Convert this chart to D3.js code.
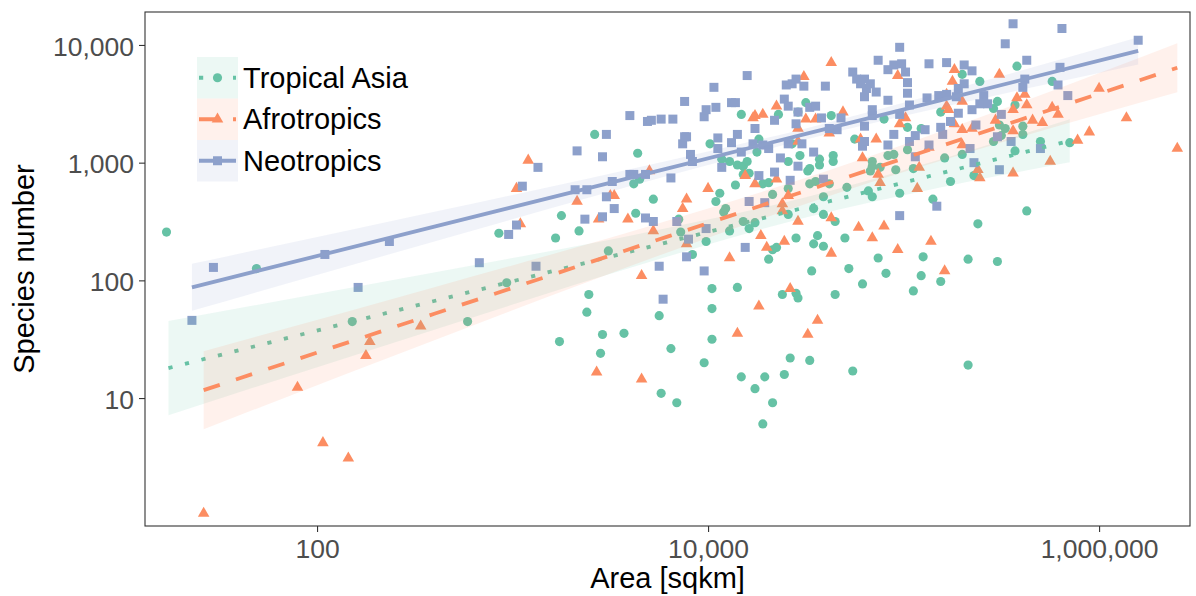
<!DOCTYPE html>
<html>
<head>
<meta charset="utf-8">
<script src="https://d3js.org/d3.v7.min.js"></script>
<style>
  body { margin: 0; background: #fff; }
  svg { display: block; font-family: "Liberation Sans", Arial, sans-serif; }
</style>
</head>
<body>
<script>
// values, kept as log10(area in sqkm) and log10(species number)
var asiaLogArea = [1.23,1.69,2.18,2.77,2.93,2.97,3.22,3.25,3.34,3.38,
  3.39,3.42,3.46,3.24,3.45,3.49,3.57,3.64,3.65,3.62,
  3.72,3.63,3.85,3.86,3.75,3.81,3.76,3.84,3.92,3.98,
  3.99,4.01,4.02,4.02,4.02,4.04,4.06,4.07,4.08,4.09,
  4.11,4.11,4.14,4.15,4.15,4.17,4.17,4.18,4.18,4.18,
  4.20,4.21,4.21,4.24,4.24,4.25,4.26,4.28,4.28,4.29,
  4.31,4.31,4.33,4.33,4.33,4.35,4.36,4.38,4.39,4.41,
  4.41,4.41,4.42,4.43,4.45,4.45,4.46,4.46,4.47,4.50,
  4.51,4.52,4.52,4.52,4.53,4.54,4.54,4.55,4.56,4.57,
  4.57,4.59,4.59,4.59,4.62,4.63,4.64,4.64,4.65,4.65,
  4.70,4.71,4.72,4.74,4.75,4.79,4.82,4.83,4.84,4.84,
  4.84,4.87,4.88,4.90,4.91,4.92,4.95,4.96,4.98,5.02,
  5.02,5.05,5.05,5.09,5.09,5.10,5.15,5.19,5.19,5.21,
  5.24,5.30,5.30,5.33,5.33,5.36,5.38,5.39,5.46,5.46,
  5.48,5.48,5.49,5.50,5.52,5.57,5.57,5.58,5.61,5.61,
  5.63,5.70,5.76,5.85];
var asiaLogSpp = [2.41,2.10,1.65,1.65,2.40,1.98,2.36,2.55,2.42,1.73,
  1.88,3.24,1.54,1.48,1.38,2.25,1.55,3.08,2.86,2.82,
  2.69,2.57,2.52,2.41,1.70,1.42,1.04,0.96,2.22,1.30,
  2.33,3.16,1.93,1.76,1.50,2.67,2.74,3.03,2.58,2.61,
  2.42,3.01,2.81,1.94,2.98,3.41,1.18,2.90,2.50,2.97,
  3.01,2.91,2.44,2.49,1.08,3.09,3.20,2.82,0.78,1.18,
  2.83,2.18,2.73,0.96,2.26,2.28,3.41,1.88,1.20,3.01,
  2.56,2.78,1.34,3.16,2.36,1.89,3.43,1.85,3.06,3.51,
  2.93,2.95,2.82,1.32,2.08,2.31,2.61,2.84,2.38,3.03,
  2.98,2.71,2.56,2.29,2.82,3.40,3.06,3.01,2.50,1.88,
  2.36,2.79,2.10,1.23,3.20,1.97,2.76,2.93,3.01,2.97,
  2.71,2.19,2.96,3.37,2.06,3.06,3.07,2.94,2.74,3.30,
  3.11,2.95,1.91,3.29,2.04,2.20,2.69,3.43,1.99,3.04,
  2.84,3.75,3.07,2.18,1.28,2.89,2.48,3.69,3.46,3.18,
  3.52,2.16,3.32,3.23,3.29,3.49,3.10,3.82,3.31,3.24,
  2.59,3.18,3.69,3.17];

var afroLogArea = [1.42,1.90,2.03,2.16,2.25,2.27,2.53,3.02,3.04,3.08,
  3.33,3.43,3.44,3.50,3.52,3.59,3.66,3.66,3.70,3.72,
  3.87,3.89,3.89,4.00,4.11,4.15,4.19,4.23,4.24,4.28,
  4.24,4.26,4.27,4.30,4.35,4.35,4.38,4.38,4.39,4.41,
  4.42,4.46,4.46,4.46,4.49,4.50,4.51,4.55,4.56,4.62,
  4.63,4.63,4.63,4.69,4.77,4.78,4.79,4.84,4.86,4.87,
  4.88,4.90,4.97,4.97,4.98,5.01,5.07,5.08,5.13,5.14,
  5.21,5.22,5.22,5.23,5.25,5.26,5.26,5.30,5.30,5.30,
  5.35,5.38,5.39,5.49,5.47,5.56,5.56,5.56,5.58,5.62,
  5.63,5.66,5.71,5.75,5.76,5.79,5.89,5.95,6.00,6.14,
  6.40];
var afroLogSpp = [0.02,1.09,0.62,0.49,1.36,1.48,1.61,2.78,2.48,3.02,
  2.67,1.22,2.52,2.72,2.72,2.52,2.04,1.16,2.93,2.42,
  2.61,2.69,2.31,2.78,2.19,1.55,2.89,3.38,3.40,3.41,
  2.82,1.78,2.38,2.28,3.48,2.86,2.59,2.65,2.33,2.72,
  1.93,3.29,2.50,3.18,3.73,3.37,1.54,3.37,1.66,3.25,
  2.53,3.85,2.23,3.43,2.45,3.20,3.04,2.36,3.20,2.90,
  2.83,2.46,2.26,3.74,3.33,3.38,2.78,2.96,3.13,2.33,
  2.08,3.58,3.48,3.45,3.69,3.79,3.33,3.52,3.15,3.28,
  3.29,2.94,2.87,3.75,3.36,3.27,3.45,2.91,3.55,3.58,
  3.49,3.36,3.34,3.01,3.47,3.41,3.19,3.26,3.63,3.38,
  3.12];

var neoLogArea = [1.36,1.47,2.04,2.21,2.37,2.83,2.98,3.02,3.05,3.13,
  3.12,3.32,3.33,3.37,3.38,3.46,3.46,3.48,3.48,3.51,
  3.52,3.60,3.60,3.62,3.68,3.68,3.69,3.71,3.72,3.75,
  3.76,3.77,3.81,3.82,3.84,3.87,3.88,3.88,3.89,3.89,
  3.90,3.91,3.92,3.98,3.98,3.99,3.99,4.03,4.04,4.05,
  4.05,4.07,4.12,4.12,4.14,4.15,4.17,4.19,4.20,4.21,
  4.23,4.24,4.26,4.28,4.29,4.31,4.34,4.34,4.37,4.39,
  4.40,4.41,4.41,4.42,4.43,4.45,4.45,4.46,4.46,4.48,
  4.49,4.52,4.54,4.55,4.58,4.59,4.60,4.62,4.66,4.68,
  4.74,4.76,4.78,4.79,4.80,4.80,4.80,4.80,4.81,4.83,
  4.84,4.84,4.86,4.87,4.92,4.92,4.92,4.95,4.95,4.98,
  4.98,4.98,4.99,5.01,5.02,5.02,5.03,5.03,5.06,5.06,
  5.11,5.12,5.13,5.13,5.17,5.18,5.19,5.20,5.22,5.22,
  5.24,5.27,5.28,5.28,5.31,5.31,5.34,5.35,5.35,5.36,
  5.37,5.39,5.41,5.43,5.48,5.49,5.50,5.52,5.55,5.56,
  5.61,5.62,5.63,5.70,5.79,5.80,5.81,5.84,6.20];
var neoLogSpp = [1.66,2.11,2.22,1.94,2.33,2.15,2.39,2.47,2.80,2.96,
  2.12,2.77,3.10,2.52,2.77,3.05,2.54,2.71,3.24,2.84,
  2.61,2.90,3.40,2.90,2.53,2.90,3.35,3.36,2.50,2.12,
  3.37,1.84,2.87,3.37,2.50,3.16,3.52,3.22,3.22,2.20,
  2.35,3.07,3.01,3.39,2.08,3.45,2.44,3.64,3.47,3.21,
  3.12,2.96,3.17,3.51,3.51,3.24,3.09,2.28,3.74,2.67,
  3.16,3.29,2.89,3.15,2.66,3.12,3.36,2.92,3.04,3.54,
  3.66,3.48,3.16,2.85,3.67,3.71,3.33,3.43,2.97,3.16,
  3.65,3.47,3.09,3.48,3.38,2.86,3.65,3.29,3.28,3.38,
  3.77,3.71,3.67,3.14,3.56,3.71,3.31,3.18,3.63,3.67,
  3.40,3.45,3.60,3.87,3.53,3.15,3.79,3.83,3.24,3.98,
  3.41,2.55,3.84,3.77,3.68,3.59,3.49,3.18,3.05,3.23,
  3.28,3.55,3.15,3.84,2.63,3.57,3.30,3.24,3.85,3.58,
  3.35,3.56,3.63,3.42,3.83,3.67,3.12,3.45,3.78,3.00,
  3.32,3.50,3.57,3.50,3.22,2.94,3.41,4.01,3.18,4.18,
  3.64,3.71,3.87,3.12,3.66,3.81,4.14,3.57,4.04];

// fitted lines and their confidence bands (log10 units)
var asiaBandLogArea = [1.24, 2.5, 3.7, 4.5, 5.2, 5.85];
var asiaFitLogSpp   = [1.255, 1.783, 2.285, 2.621, 2.914, 3.186];
var asiaBandLogLo   = [0.855, 1.528, 2.156, 2.535, 2.794, 3.003];
var asiaBandLogHi   = [1.655, 2.038, 2.414, 2.707, 3.034, 3.369];

var afroBandLogArea = [1.42, 2.6, 3.8, 4.6, 5.5, 6.40];
var afroFitLogSpp   = [1.067, 1.716, 2.376, 2.816, 3.311, 3.806];
var afroBandLogLo   = [0.736, 1.491, 2.242, 2.707, 3.171, 3.598];
var afroBandLogHi   = [1.398, 1.941, 2.510, 2.925, 3.451, 4.014];

var neoBandLogArea = [1.36, 2.6, 3.8, 4.5, 5.3, 6.20];
var neoFitLogSpp   = [1.941, 2.456, 2.954, 3.244, 3.576, 3.950];
var neoBandLogLo   = [1.741, 2.330, 2.890, 3.197, 3.508, 3.835];
var neoBandLogHi   = [2.141, 2.582, 3.018, 3.291, 3.644, 4.065];

var regionNames = ["Tropical Asia", "Afrotropics", "Neotropics"];
var colorset = ["#66C2A5", "#FC8D62", "#8DA0CB"];
var xTickValues = [100, 10000, 1000000];
var yTickValues = [10, 100, 1000, 10000];

var width = 1196, height = 596;
var panel = { left: 145, right: 1190, top: 12, bottom: 526 };

var groups = [
  { name: regionNames[0], lx: asiaLogArea, ly: asiaLogSpp, color: colorset[0], shape: d3.symbolCircle, size: 66, dash: "4.2,12.8",
    bx: asiaBandLogArea, bf: asiaFitLogSpp, blo: asiaBandLogLo, bhi: asiaBandLogHi },
  { name: regionNames[1], lx: afroLogArea, ly: afroLogSpp, color: colorset[1], shape: d3.symbolTriangle, size: 58, dash: "17,17",
    bx: afroBandLogArea, bf: afroFitLogSpp, blo: afroBandLogLo, bhi: afroBandLogHi },
  { name: regionNames[2], lx: neoLogArea, ly: neoLogSpp, color: colorset[2], shape: d3.symbolSquare, size: 81, dash: null,
    bx: neoBandLogArea, bf: neoFitLogSpp, blo: neoBandLogLo, bhi: neoBandLogHi }
];

var svg = d3.select("body").append("svg")
  .attr("width", width)
  .attr("height", height);

// *** scales (log axes)
var xScale = d3.scaleLog().domain([Math.pow(10, 1.12), Math.pow(10, 6.465)]).range([panel.left, panel.right]);
var yScale = d3.scaleLog().domain([Math.pow(10, -0.087), Math.pow(10, 4.28)]).range([panel.bottom, panel.top]);

svg.append("clipPath").attr("id", "panelClip").append("rect")
  .attr("x", panel.left).attr("y", panel.top)
  .attr("width", panel.right - panel.left).attr("height", panel.bottom - panel.top);

var plot = svg.append("g").attr("clip-path", "url(#panelClip)");

// *** points
groups.forEach(function(g){
  var pts = g.lx.map(function(v, i){ return { area: Math.pow(10, v), spp: Math.pow(10, g.ly[i]) }; });
  plot.append("g").selectAll("path")
    .data(pts)
    .enter().append("path")
    .attr("d", d3.symbol().type(g.shape).size(g.size))
    .attr("transform", function(d){ return "translate(" + xScale(d.area) + "," + yScale(d.spp) + ")"; })
    .attr("fill", g.color);
});

// *** smooth bands and lines
var band = d3.area()
  .x(function(d){ return xScale(d.x); })
  .y0(function(d){ return yScale(d.lo); })
  .y1(function(d){ return yScale(d.hi); })
  .curve(d3.curveMonotoneX);
var line = d3.line()
  .x(function(d){ return xScale(d.x); })
  .y(function(d){ return yScale(d.fit); });

groups.forEach(function(g){
  var fit = g.bx.map(function(v, i){
    return { x: Math.pow(10, v), fit: Math.pow(10, g.bf[i]), lo: Math.pow(10, g.blo[i]), hi: Math.pow(10, g.bhi[i]) };
  });
  plot.append("path")
    .attr("d", band(fit))
    .attr("fill", g.color)
    .attr("fill-opacity", 0.12);
  plot.append("path")
    .attr("d", line(fit))
    .attr("fill", "none")
    .attr("stroke", g.color)
    .attr("stroke-width", 3.8)
    .attr("stroke-dasharray", g.dash);
});

// *** panel border
svg.append("rect")
  .attr("x", panel.left).attr("y", panel.top)
  .attr("width", panel.right - panel.left).attr("height", panel.bottom - panel.top)
  .attr("fill", "none")
  .attr("stroke", "#333333")
  .attr("stroke-width", 1.1);

// *** axes
var xAxis = svg.append("g")
  .attr("transform", "translate(0," + panel.bottom + ")")
  .call(d3.axisBottom(xScale).tickValues(xTickValues).tickFormat(d3.format(",")).tickSize(6).tickPadding(7));
var yAxis = svg.append("g")
  .attr("transform", "translate(" + panel.left + ",0)")
  .call(d3.axisLeft(yScale).tickValues(yTickValues).tickFormat(d3.format(",")).tickSize(6).tickPadding(5));

[xAxis, yAxis].forEach(function(ax){
  ax.select(".domain").remove();
  ax.selectAll(".tick line").attr("stroke", "#333333").attr("stroke-width", 1.1);
  ax.selectAll(".tick text")
    .attr("fill", "#4D4D4D")
    .style("font-family", "'Liberation Sans', Arial, sans-serif")
    .style("font-size", "26.5px");
});
yAxis.selectAll(".tick text").attr("dy", "0.38em");

svg.append("text")
  .attr("x", (panel.left + panel.right) / 2)
  .attr("y", 588)
  .attr("text-anchor", "middle")
  .attr("font-size", "29px")
  .attr("fill", "#000")
  .text("Area [sqkm]");

svg.append("text")
  .attr("transform", "translate(34," + (panel.top + panel.bottom) / 2 + ") rotate(-90)")
  .attr("text-anchor", "middle")
  .attr("font-size", "29px")
  .attr("fill", "#000")
  .text("Species number");

// *** legend
var legend = svg.append("g").attr("transform", "translate(197,57)");
var keyW = 41, keyH = 41.5;
groups.forEach(function(g, i){
  var row = legend.append("g").attr("transform", "translate(0," + i * keyH + ")");
  row.append("rect")
    .attr("width", keyW).attr("height", keyH)
    .attr("fill", g.color).attr("fill-opacity", 0.12);
  row.append("line")
    .attr("x1", 2).attr("x2", keyW - 2)
    .attr("y1", keyH / 2).attr("y2", keyH / 2)
    .attr("stroke", g.color)
    .attr("stroke-width", 3.8)
    .attr("stroke-dasharray", g.dash);
  row.append("path")
    .attr("d", d3.symbol().type(g.shape).size(g.size))
    .attr("transform", "translate(" + (keyW / 2) + "," + (keyH / 2) + ")")
    .attr("fill", g.color);
  row.append("text")
    .attr("x", keyW + 5)
    .attr("y", keyH / 2)
    .attr("dy", "0.35em")
    .attr("font-size", "29px")
    .attr("fill", "#000")
    .text(g.name);
});
</script>
</body>
</html>
